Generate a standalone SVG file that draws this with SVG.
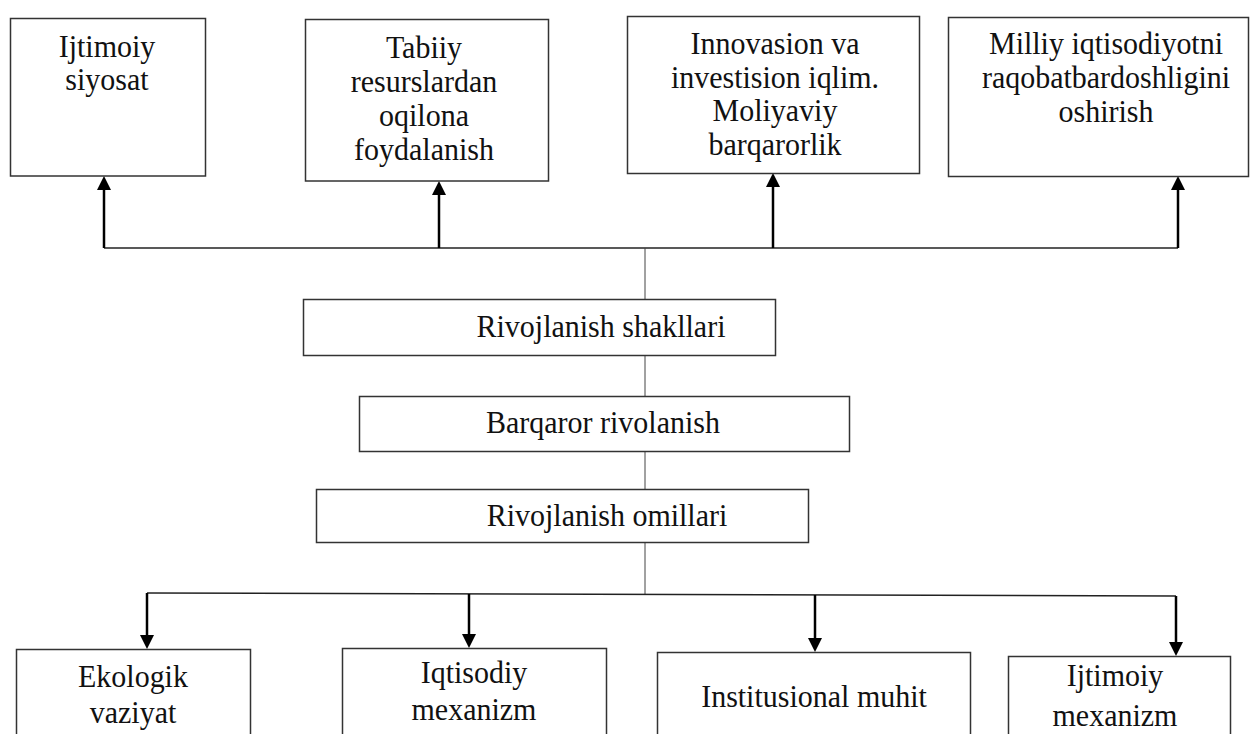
<svg xmlns="http://www.w3.org/2000/svg" width="1250" height="734" viewBox="0 0 1250 734">
<defs>
<style>
.box{fill:#fff;stroke:#333;stroke-width:1.5}
.t{font-family:'Liberation Serif',serif;font-size:30px;fill:#111;text-anchor:middle}
.arr{stroke:#000;stroke-width:2.5;fill:none}
.ln{stroke:#222;stroke-width:1.5;fill:none}
.thin{stroke:#444;stroke-width:1;fill:none}
</style>
<marker id="ah" viewBox="0 0 14 14" refX="10" refY="7" markerWidth="14" markerHeight="14" markerUnits="userSpaceOnUse" orient="auto">
<path d="M0,0 L14,7 L0,14 z" fill="#000"/>
</marker>
</defs>
<rect width="1250" height="734" fill="#fff"/>

<g id="connectors">
<line class="ln" x1="104" y1="248" x2="1178" y2="248"/>
<line class="arr" x1="104" y1="248" x2="104" y2="180" marker-end="url(#ah)"/>
<line class="arr" x1="439" y1="248" x2="439" y2="185" marker-end="url(#ah)"/>
<line class="arr" x1="773" y1="248" x2="773" y2="177" marker-end="url(#ah)"/>
<line class="arr" x1="1178" y1="248" x2="1178" y2="180" marker-end="url(#ah)"/>
<line class="thin" x1="645" y1="248" x2="645" y2="299"/>
<line class="thin" x1="645" y1="356" x2="645" y2="396"/>
<line class="thin" x1="645" y1="451" x2="645" y2="489"/>
<line class="thin" x1="645" y1="543" x2="645" y2="594"/>
<line class="ln" x1="147" y1="593" x2="1176" y2="596"/>
<line class="arr" x1="147" y1="593" x2="147" y2="645" marker-end="url(#ah)"/>
<line class="arr" x1="469" y1="594" x2="469" y2="644" marker-end="url(#ah)"/>
<line class="arr" x1="815" y1="595" x2="815" y2="648" marker-end="url(#ah)"/>
<line class="arr" x1="1176" y1="596" x2="1176" y2="652" marker-end="url(#ah)"/>
</g>

<g id="n-ijtimoiy-siyosat">
<rect class="box" x="10.5" y="18.5" width="195" height="157.5"/>
<text class="t" x="107" y="0" transform="translate(0,57) scale(1,1.07)">Ijtimoiy</text>
<text class="t" x="107" y="0" transform="translate(0,90) scale(1,1.07)">siyosat</text>
</g>

<g id="n-tabiiy">
<rect class="box" x="305.5" y="19.5" width="243" height="161.5"/>
<text class="t" x="424" y="0" transform="translate(0,58) scale(1,1.07)">Tabiiy</text>
<text class="t" x="424" y="0" transform="translate(0,92) scale(1,1.07)">resurslardan</text>
<text class="t" x="424" y="0" transform="translate(0,126) scale(1,1.07)">oqilona</text>
<text class="t" x="424" y="0" transform="translate(0,160) scale(1,1.07)">foydalanish</text>
</g>

<g id="n-innovasion">
<rect class="box" x="627.5" y="16.5" width="292" height="157"/>
<text class="t" x="775" y="0" transform="translate(0,54) scale(1,1.07)">Innovasion va</text>
<text class="t" x="775" y="0" transform="translate(0,88) scale(1,1.07)">investision iqlim.</text>
<text class="t" x="775" y="0" transform="translate(0,121) scale(1,1.07)">Moliyaviy</text>
<text class="t" x="775" y="0" transform="translate(0,155) scale(1,1.07)">barqarorlik</text>
</g>

<g id="n-milliy">
<rect class="box" x="948.5" y="17.5" width="300" height="159"/>
<text class="t" x="1106" y="0" transform="translate(0,54) scale(1,1.07)">Milliy iqtisodiyotni</text>
<text class="t" x="1106" y="0" transform="translate(0,88) scale(1,1.07)">raqobatbardoshligini</text>
<text class="t" x="1106" y="0" transform="translate(0,122) scale(1,1.07)">oshirish</text>
</g>

<g id="n-shakllari">
<rect class="box" x="303.5" y="299.5" width="472" height="56"/>
<text class="t" x="601" y="0" transform="translate(0,337) scale(1,1.07)">Rivojlanish shakllari</text>
</g>

<g id="n-barqaror">
<rect class="box" x="359.5" y="396.5" width="490" height="55"/>
<text class="t" x="603" y="0" transform="translate(0,433) scale(1,1.07)">Barqaror rivolanish</text>
</g>

<g id="n-omillari">
<rect class="box" x="316.5" y="489.5" width="492" height="53"/>
<text class="t" x="607" y="0" transform="translate(0,526) scale(1,1.07)">Rivojlanish omillari</text>
</g>

<g id="n-ekologik">
<rect class="box" x="16.5" y="649.5" width="234" height="100"/>
<text class="t" x="133" y="0" transform="translate(0,687) scale(1,1.07)">Ekologik</text>
<text class="t" x="133" y="0" transform="translate(0,723) scale(1,1.07)">vaziyat</text>
</g>

<g id="n-iqtisodiy">
<rect class="box" x="342.5" y="648.5" width="264" height="100"/>
<text class="t" x="474" y="0" transform="translate(0,683) scale(1,1.07)">Iqtisodiy</text>
<text class="t" x="474" y="0" transform="translate(0,720) scale(1,1.07)">mexanizm</text>
</g>

<g id="n-institutional">
<rect class="box" x="657.5" y="652.5" width="313" height="100"/>
<text class="t" x="814" y="0" transform="translate(0,707) scale(1,1.07)">Institusional muhit</text>
</g>

<g id="n-ijtimoiy-mexanizm">
<rect class="box" x="1008.5" y="656.5" width="222" height="100"/>
<text class="t" x="1115" y="0" transform="translate(0,686) scale(1,1.07)">Ijtimoiy</text>
<text class="t" x="1115" y="0" transform="translate(0,726) scale(1,1.07)">mexanizm</text>
</g>
</svg>
